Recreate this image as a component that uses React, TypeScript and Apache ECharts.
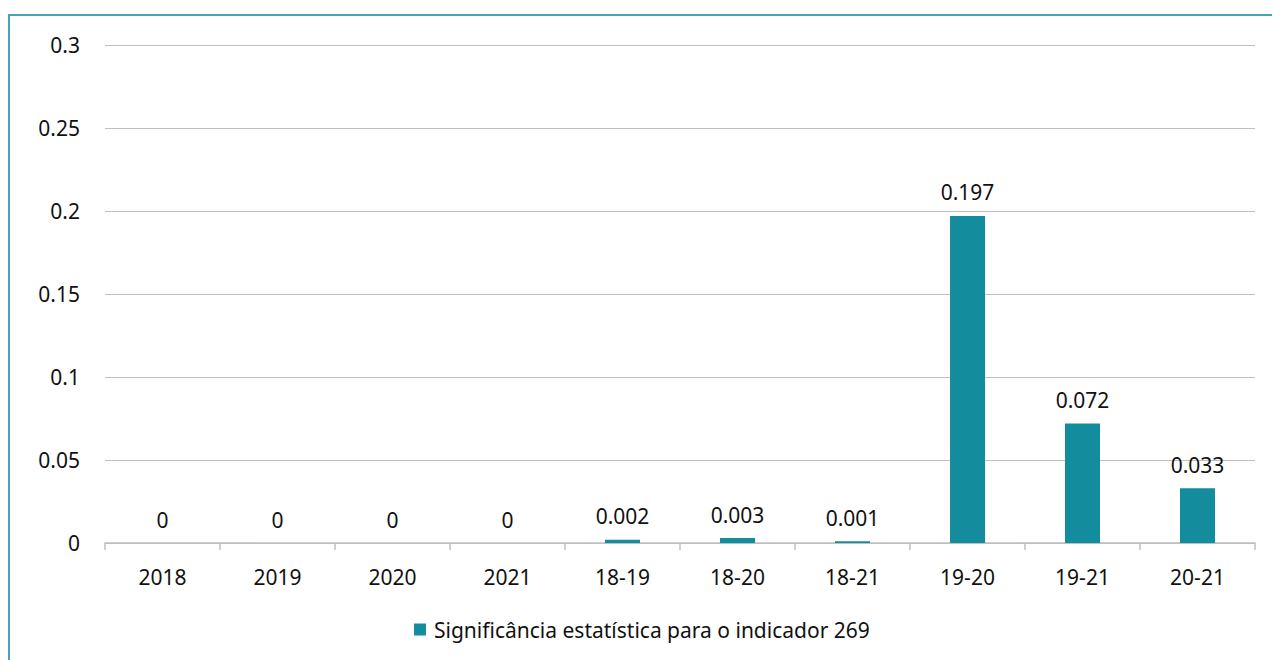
import React, { useEffect, useRef } from "react";
import * as echarts from "echarts";

const categories = ["2018", "2019", "2020", "2021", "18-19", "18-20", "18-21", "19-20", "19-21", "20-21"];
const values = [0, 0, 0, 0, 0.002, 0.003, 0.001, 0.197, 0.072, 0.033];
const seriesName = "Significância estatística para o indicador 269";

export default function App() {
  const ref = useRef<HTMLDivElement>(null);
  useEffect(() => {
    if (!ref.current) return;
    const chart = echarts.init(ref.current, undefined, { renderer: "svg" });
    const font = "'Noto Sans', 'Open Sans', sans-serif";
    const fs = 21;
    chart.setOption({
      animation: false,
      textStyle: { fontFamily: font },
      grid: { left: 95, right: 25, top: 29, bottom: 117, containLabel: false },
      legend: {
        top: 598,
        left: 399,
        itemWidth: 12,
        itemHeight: 12,
        itemGap: 10,
        icon: "rect",
        textStyle: { fontSize: fs, color: "#111", fontFamily: font, padding: [0, 0, 0, 3] },
        data: [seriesName],
      },
      xAxis: {
        type: "category",
        data: categories,
        axisLine: { lineStyle: { color: "#bfbfbf", width: 1.5 } },
        axisTick: { show: true, length: 7, alignWithLabel: false, lineStyle: { color: "#bfbfbf", width: 1.5 } },
        axisLabel: { color: "#111", fontSize: fs, margin: 23, fontFamily: font },
      },
      yAxis: {
        type: "value",
        min: 0,
        max: 0.3,
        interval: 0.05,
        axisLine: { show: false },
        axisTick: { show: false },
        splitLine: { lineStyle: { color: "#bfbfbf", width: 1.2 } },
        axisLabel: {
          color: "#111",
          fontSize: fs,
          margin: 25,
          fontFamily: font,
          formatter: (v: number) => String(Number(v.toFixed(2))),
        },
      },
      series: [
        {
          name: seriesName,
          type: "bar",
          data: values,
          barWidth: 35,
          itemStyle: { color: "#138d9e" },
          label: {
            show: true,
            position: "top",
            distance: 13,
            color: "#111",
            fontSize: fs,
            fontFamily: font,
            formatter: (p: any) => String(p.value),
          },
        },
      ],
    });
    return () => chart.dispose();
  }, []);
  return (
    <div
      style={{
        width: 1272,
        height: 646,
        marginTop: 6,
        borderTop: "2px solid #44a6b5",
        borderLeft: "2px solid #44a6b5",
        boxSizing: "border-box",
      }}
    >
      <div ref={ref} style={{ width: 1270, height: 644 }} />
    </div>
  );
}
